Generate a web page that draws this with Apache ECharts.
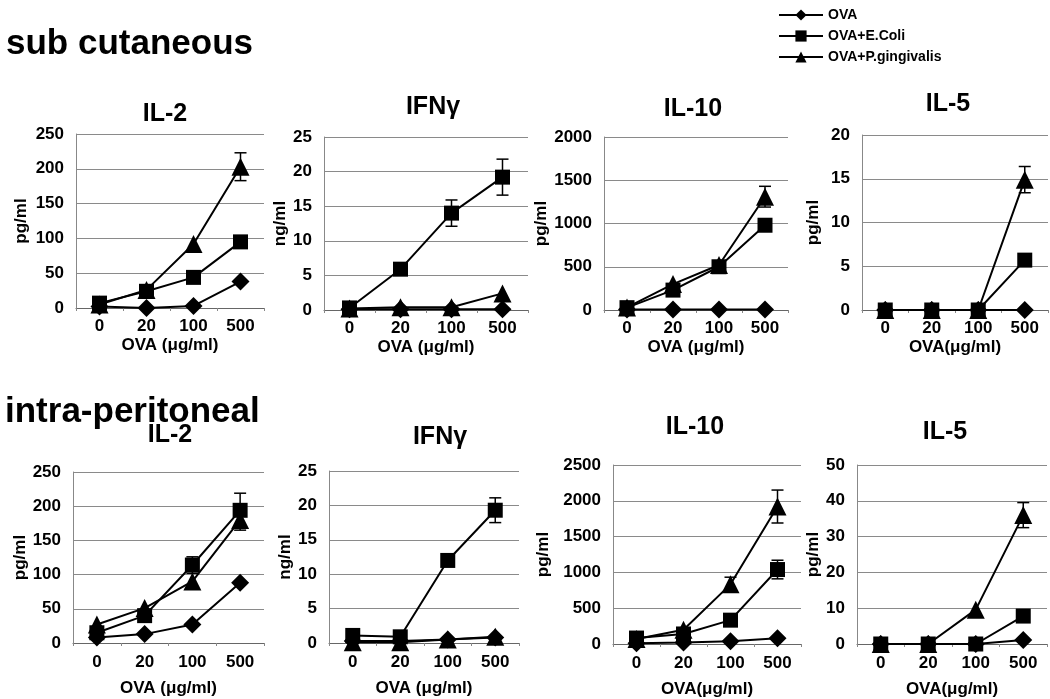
<!DOCTYPE html>
<html>
<head>
<meta charset="utf-8">
<script src="https://cdn.jsdelivr.net/npm/echarts@6/dist/echarts.min.js"></script>
<style>
  html, body { margin: 0; padding: 0; background: #fff; }
  #chart { width: 1050px; height: 699px; }
</style>
</head>
<body>
<div id="chart"></div>
<script>
// categories (OVA dose)
const cats = ['0', '20', '100', '500']
const seriesNames = ['OVA', 'OVA+E.Coli', 'OVA+P.gingivalis']

// sub cutaneous
const scIl2Ova = [2, 0, 3, 38]
const scIl2Ecoli = [7, 24, 44, 95]
const scIl2Pg = [5, 26, 92, 203]
const scIl2Err = [[0, 0, 0, 0], [0, 0, 0, 0], [0, 0, 0, 20]]

const scIfnOva = [0.1, 0.1, 0.1, 0.1]
const scIfnEcoli = [0.3, 5.9, 14, 19.2]
const scIfnPg = [0.2, 0.4, 0.4, 2.4]
const scIfnErr = [[0, 0, 0, 0], [0, 0, 1.9, 2.6], [0, 0, 0, 0]]

const scIl10Ova = [5, 5, 5, 5]
const scIl10Ecoli = [27, 230, 500, 980]
const scIl10Pg = [30, 300, 520, 1310]
const scIl10Err = [[0, 0, 0, 0], [0, 0, 0, 70], [0, 0, 0, 120]]

const scIl5Ova = [0, 0, 0, 0]
const scIl5Ecoli = [0, 0, 0, 5.7]
const scIl5Pg = [0, 0, 0, 14.9]
const scIl5Err = [[0, 0, 0, 0], [0, 0, 0, 0], [0, 0, 0, 1.5]]

// intra-peritoneal
const ipIl2Ova = [8, 13, 27, 88]
const ipIl2Ecoli = [15, 40, 114, 194]
const ipIl2Pg = [27, 51, 90, 180]
const ipIl2Err = [[0, 0, 0, 0], [0, 0, 12, 25], [0, 0, 0, 15]]

const ipIfnOva = [0.3, 0.3, 0.5, 0.8]
const ipIfnEcoli = [1.1, 0.9, 12, 19.3]
const ipIfnPg = [0.1, 0.1, 0.5, 0.9]
const ipIfnErr = [[0, 0, 0, 0], [0, 0, 0, 1.8], [0, 0, 0, 0]]

const ipIl10Ova = [10, 20, 37, 80]
const ipIl10Ecoli = [83, 140, 333, 1040]
const ipIl10Pg = [70, 200, 833, 1920]
const ipIl10Err = [[0, 0, 0, 0], [0, 0, 0, 130], [0, 0, 100, 230]]

const ipIl5Ova = [0, 0, 0, 1.1]
const ipIl5Ecoli = [0, 0, 0, 7.8]
const ipIl5Pg = [0, 0, 9.6, 36]
const ipIl5Err = [[0, 0, 0, 0], [0, 0, 0, 0], [0, 0, 0, 3.5]]

const font = "'Liberation Sans', Arial, sans-serif"
const symbols = ['diamond', 'rect', 'triangle']
const symbolSizes = [18, 15, 18]

// 每个小图的布局
const panels = [
  { title: 'IL-2', unit: 'pg/ml', xName: 'OVA (μg/ml)', max: 250, step: 50, data: [scIl2Ova, scIl2Ecoli, scIl2Pg], err: scIl2Err,
    grid: { left: 76, top: 134, width: 188, height: 174 }, tx: 160, ty: 97, nameGap: 46, row: 0 },
  { title: 'IFNγ', unit: 'ng/ml', xName: 'OVA (μg/ml)', max: 25, step: 5, data: [scIfnOva, scIfnEcoli, scIfnPg], err: scIfnErr,
    grid: { left: 324, top: 137, width: 204, height: 173 }, tx: 428, ty: 90, nameGap: 35, row: 0 },
  { title: 'IL-10', unit: 'pg/ml', xName: 'OVA (μg/ml)', max: 2000, step: 500, data: [scIl10Ova, scIl10Ecoli, scIl10Pg], err: scIl10Err,
    grid: { left: 604, top: 137, width: 184, height: 173 }, tx: 688, ty: 92, nameGap: 52, row: 0 },
  { title: 'IL-5', unit: 'pg/ml', xName: 'OVA(μg/ml)', max: 20, step: 5, data: [scIl5Ova, scIl5Ecoli, scIl5Pg], err: scIl5Err,
    grid: { left: 862, top: 135, width: 186, height: 175 }, tx: 943, ty: 87, nameGap: 40, row: 0 },
  { title: 'IL-2', unit: 'pg/ml', xName: 'OVA (μg/ml)', max: 250, step: 50, data: [ipIl2Ova, ipIl2Ecoli, ipIl2Pg], err: ipIl2Err,
    grid: { left: 73, top: 472, width: 191, height: 171 }, tx: 165, ty: 418, nameGap: 39, row: 1 },
  { title: 'IFNγ', unit: 'ng/ml', xName: 'OVA (μg/ml)', max: 25, step: 5, data: [ipIfnOva, ipIfnEcoli, ipIfnPg], err: ipIfnErr,
    grid: { left: 329, top: 471, width: 190, height: 172 }, tx: 435, ty: 420, nameGap: 32, row: 1 },
  { title: 'IL-10', unit: 'pg/ml', xName: 'OVA(μg/ml)', max: 2500, step: 500, data: [ipIl10Ova, ipIl10Ecoli, ipIl10Pg], err: ipIl10Err,
    grid: { left: 613, top: 465, width: 188, height: 180 }, tx: 690, ty: 410, nameGap: 61, row: 1 },
  { title: 'IL-5', unit: 'pg/ml', xName: 'OVA(μg/ml)', max: 50, step: 10, data: [ipIl5Ova, ipIl5Ecoli, ipIl5Pg], err: ipIl5Err,
    grid: { left: 857, top: 465, width: 190, height: 182 }, tx: 940, ty: 415, nameGap: 33, row: 1 }
]

// 误差线
function errorBars (values, errs) {
  const out = []
  values.forEach((v, i) => {
    if (errs[i] > 0) out.push([i, v - errs[i], v + errs[i]])
  })
  return out
}

function renderErr (params, api) {
  const lo = api.coord([api.value(0), api.value(1)])
  const hi = api.coord([api.value(0), api.value(2)])
  const w = 6
  const style = { stroke: '#000', lineWidth: 1.5 }
  return {
    type: 'group',
    children: [
      { type: 'line', shape: { x1: hi[0], y1: hi[1], x2: lo[0], y2: lo[1] }, style },
      { type: 'line', shape: { x1: hi[0] - w, y1: hi[1], x2: hi[0] + w, y2: hi[1] }, style },
      { type: 'line', shape: { x1: lo[0] - w, y1: lo[1], x2: lo[0] + w, y2: lo[1] }, style }
    ]
  }
}

const titles = [
  { text: 'sub cutaneous', left: 6, top: 27 },
  { text: 'intra-peritoneal', left: 5, top: 395 }
].map(t => ({ ...t, padding: 0, textStyle: { fontFamily: font, fontWeight: 'bold', fontSize: 35, color: '#000' } }))

const grids = []
const xAxes = []
const yAxes = []
const series = []

panels.forEach((p, k) => {
  titles.push({
    text: p.title, left: p.tx, top: p.ty, textAlign: 'center',
    textStyle: { fontFamily: font, fontWeight: 'bold', fontSize: 25, color: '#000' }
  })
  grids.push(p.grid)
  xAxes.push({
    type: 'category', gridIndex: k, data: cats, boundaryGap: true,
    name: p.xName, nameLocation: 'middle', nameGap: p.row === 0 ? 29 : 37,
    nameTextStyle: { fontFamily: font, fontWeight: 'bold', fontSize: 17, color: '#000' },
    axisLine: { lineStyle: { color: '#666', width: 1 } },
    axisTick: { show: true, length: 3, lineStyle: { color: '#888' } },
    axisLabel: { fontFamily: font, fontWeight: 'bold', fontSize: 17, color: '#000', margin: p.row === 0 ? 10 : 11 }
  })
  yAxes.push({
    type: 'value', gridIndex: k, min: 0, max: p.max, interval: p.step,
    name: p.unit, nameLocation: 'middle', nameGap: p.nameGap,
    nameTextStyle: { fontFamily: font, fontWeight: 'bold', fontSize: 17, color: '#000' },
    axisLine: { show: true, lineStyle: { color: '#888', width: 1 } },
    axisTick: { show: false },
    axisLabel: {
      fontFamily: font, fontWeight: 'bold', fontSize: 17, color: '#000', margin: 12,
      formatter: v => String(v)
    },
    splitLine: { lineStyle: { color: '#8a8a8a', width: 1 } }
  })
  p.data.forEach((vals, s) => {
    series.push({
      name: seriesNames[s], type: 'line', xAxisIndex: k, yAxisIndex: k,
      data: vals, symbol: symbols[s], symbolSize: symbolSizes[s],
      lineStyle: { color: '#000', width: 2 },
      itemStyle: { color: '#000' },
      z: 3 + s,
      animation: false
    })
    const eb = errorBars(vals, p.err[s])
    if (eb.length) {
      series.push({
        type: 'custom', xAxisIndex: k, yAxisIndex: k,
        data: eb, renderItem: renderErr, z: 2, animation: false
      })
    }
  })
})

const chart = echarts.init(document.getElementById('chart'))
chart.setOption({
  backgroundColor: '#fff',
  animation: false,
  title: titles,
  legend: {
    data: seriesNames, orient: 'vertical', left: 773, top: 3,
    itemWidth: 44, itemHeight: 14, itemGap: 7,
    textStyle: { fontFamily: font, fontWeight: 'bold', fontSize: 14, color: '#000' }
  },
  grid: grids,
  xAxis: xAxes,
  yAxis: yAxes,
  series
})
</script>
</body>
</html>
